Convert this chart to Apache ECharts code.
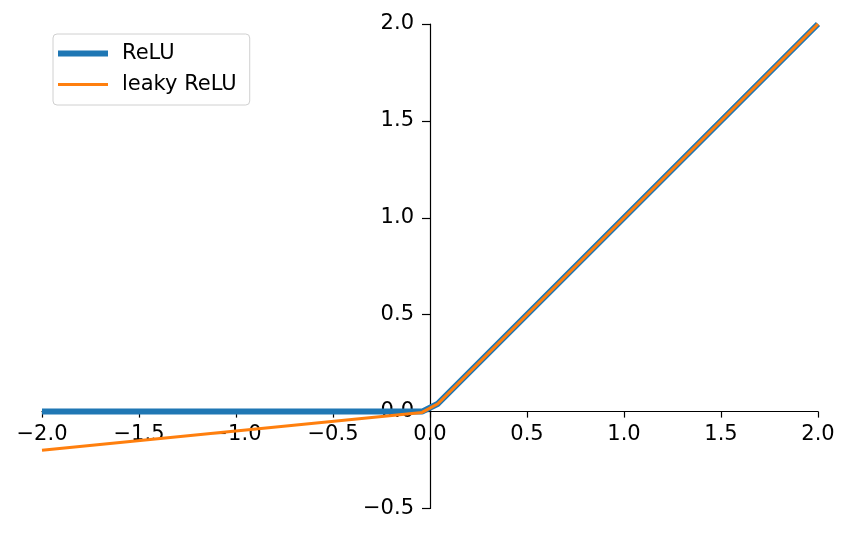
<!DOCTYPE html>
<html>
<head>
<meta charset="utf-8">
<script src="https://cdn.jsdelivr.net/npm/echarts@6/dist/echarts.min.js"></script>
<style>html,body{margin:0;padding:0;background:#fff}#c{width:850px;height:537px}</style>
</head>
<body>
<div id="c"></div>
<script>
const xs = [-2, -0.0408, 0.0408, 2];
const relu = [0, 0, 0.0408, 2];
const leaky = [-0.2, -0.00408, 0.0408, 2];
const seriesNames = ['ReLU', 'leaky ReLU'];

const FONT = 'DejaVu Sans';
const FS = 21;
const fmt = v => (v < 0 ? '\u2212' : '') + Math.abs(v).toFixed(1);
const G = {left: 42, right: 32, top: 24, bottom: 28.5};
const W = 850, H = 537;
const gw = W - G.left - G.right, gh = H - G.top - G.bottom;
const xOff = -gw * (0 - (-2)) / 4;           // move y axis to x=0
const yOff = -gh * (0 - (-0.5)) / 2.5;       // move x axis to y=0
const chart = echarts.init(document.getElementById('c'), null, {renderer: 'canvas'});
chart.setOption({
  animation: false,
  backgroundColor: '#fff',
  grid: Object.assign({containLabel: false, outerBoundsMode: 'none'}, G),
  legend: {
    orient: 'vertical', left: 53, top: 34,
    padding: [9, 13, 10, 5], itemGap: 10, itemWidth: 50, itemHeight: 14,
    borderColor: '#d0d0d0', borderWidth: 1, borderRadius: 4, backgroundColor: '#fff',
    textStyle: {fontFamily: FONT, fontSize: FS, color: '#000', padding: [0, 0, 0, 9]},
    data: [
      {name: seriesNames[0], icon: 'path://M0,0H50V6H0Z'},
      {name: seriesNames[1], icon: 'path://M0,0H50V3H0Z'}
    ]
  },
  xAxis: {
    type: 'value', min: -2, max: 2, interval: 0.5, position: 'bottom', offset: yOff,
    axisLine: {show: true, onZero: false, lineStyle: {color: '#000', width: 1.2}},
    axisTick: {show: true, inside: false, length: 6, lineStyle: {color: '#000', width: 1.2}},
    axisLabel: {formatter: fmt, fontFamily: FONT, fontSize: FS, color: '#000', margin: 12, showMinLabel: true, showMaxLabel: true, hideOverlap: false},
    splitLine: {show: false}
  },
  yAxis: {
    type: 'value', min: -0.5, max: 2, interval: 0.5, position: 'left', offset: xOff,
    axisLine: {show: true, onZero: false, lineStyle: {color: '#000', width: 1.2}},
    axisTick: {show: true, inside: false, length: 8, lineStyle: {color: '#000', width: 1.2}},
    axisLabel: {formatter: fmt, fontFamily: FONT, fontSize: FS, color: '#000', margin: 16, showMinLabel: true, showMaxLabel: true, hideOverlap: false},
    splitLine: {show: false}
  },
  series: [
    {name: seriesNames[0], type: 'line', data: xs.map((x, i) => [x, relu[i]]), showSymbol: false, symbol: 'none',
     lineStyle: {color: '#1f77b4', width: 6}, itemStyle: {color: '#1f77b4'}, z: 2},
    {name: seriesNames[1], type: 'line', data: xs.map((x, i) => [x, leaky[i]]), showSymbol: false, symbol: 'none',
     lineStyle: {color: '#ff7f0e', width: 3}, itemStyle: {color: '#ff7f0e'}, z: 3}
  ]
});
</script>
</body>
</html>
